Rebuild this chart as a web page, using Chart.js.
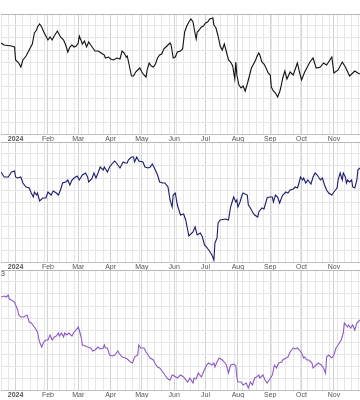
<!DOCTYPE html>
<html><head><meta charset="utf-8">
<script src="https://cdn.jsdelivr.net/npm/chart.js@4.4.1/dist/chart.umd.min.js"></script>
<style>
html,body{margin:0;padding:0;background:#fff;width:360px;height:400px;overflow:hidden}
.p{position:absolute;left:0;width:360px}
</style></head><body>
<div class="p" style="top:0;height:142px"><canvas id="c1"></canvas></div>
<div class="p" style="top:142px;height:128px"><canvas id="c2"></canvas></div>
<div class="p" style="top:270px;height:128px"><canvas id="c3"></canvas></div>
<script>
// x values: days since 2024-01-01
const monthStarts = [0,31,60,91,121,152,182,213,244,274,305];
const monthLabels = ['2024','Feb','Mar','Apr','May','Jun','Jul','Aug','Sep','Oct','Nov'];
// fragment of a clipped y-axis label visible at the top-left of the lower panel
const panel3CutLabel = '3';

const s1Days = [-14,-11,-4,-1,0,3,5,7,10,13,16,18,20,21,23,25,27,29,31,33,35,37,40,42,43,46,48,50,52,54,56,58,60,61,63,64,66,68,70,72,74,76,79,82,85,86,89,91,94,97,100,102,104,106,107,109,111,113,115,117,119,121,123,125,126,128,130,132,134,136,138,140,142,144,146,148,149,151,153,155,158,160,162,164,166,168,170,171,173,174,176,178,180,182,184,186,189,190,192,194,196,198,200,202,204,206,208,210,211,212,214,216,218,220,222,224,226,228,230,231,233,234,236,238,240,242,244,245,247,249,251,253,254,256,258,260,263,266,270,272,274,277,282,285,288,292,295,298,303,305,309,313,316,320,325,328,330];
const s1Vals = [145.5,144.5,144,143.5,137,135.5,133.5,137,139,142,145,150.5,152,153.5,155,153.5,151,149,147,148.5,147,149,151.5,149.5,148.5,147,144.5,141,143.5,144.5,143.5,144,145.5,149,146.5,145,146.5,143.5,146,144.5,143,141.5,141.5,140.5,139.5,138,138.5,137.5,137,138,137.5,141.5,140.5,138.5,139,134,129,129,131,132,133,131,129.5,128.5,132,135.5,134,133.5,135,138,139.5,140,142.5,143.5,144.5,145.5,144.5,138,138.5,141,141.5,142.5,151,154,156,157.5,156,153,147.5,151,152,153.5,154,155.5,156,157.5,158,154.5,153,149,144,142,145,141,137,136,134,127.5,136,129.5,124.5,123,124,121.5,125,129,133,135,137,138.5,140.5,139.5,136,135,133,130.5,129.5,123.5,121.5,120.5,118.5,121,123,128,131.5,127.5,131,129.5,135.5,131,127,131,136,138,133,133.5,135.5,134.5,138.5,130.5,132,136,133.5,129,131.5,130.5,130];

const s2Days = [-14,-11,-7,-4,-1,0,2,5,7,10,13,15,17,18,20,21,23,26,29,31,34,36,39,41,43,45,48,50,52,54,56,59,61,64,67,69,70,73,75,77,79,81,84,85,88,90,93,95,98,100,103,105,107,108,111,113,114,116,118,122,124,127,129,131,133,136,138,141,143,146,148,150,151,153,155,158,161,163,166,170,172,174,177,179,181,183,185,187,189,190,191,193,194,196,201,204,206,208,209,211,212,213,215,217,218,222,223,225,227,229,232,233,236,238,241,243,246,247,249,251,253,254,256,259,261,263,266,268,270,271,273,275,276,278,280,283,285,287,289,292,294,296,298,300,303,305,308,309,311,313,314,316,317,318,320,322,323,325,327,328,330];
const s2Vals = [85,82.5,82.5,85,85.5,82.5,82,82.5,79.5,77.5,77,74.5,72.5,75,73.5,74.5,70.5,72,72,75,73.5,75.5,74.5,73.5,76,79.5,80,81,78.5,81,82,83,81,83.5,84.5,82.5,80,81.5,84.5,82,84.5,87.5,86,87.5,85,87.5,89.5,90.5,88.5,87,90,89.5,89.5,91,92.5,92.5,90,92.5,90.5,90,87.5,87,87.5,89,87,83.5,80,79.5,79.5,77.5,71,67.5,73.5,74.5,68.5,63.5,64,61,53,55,57.5,53.5,54.5,52.5,48.5,47.5,46,44.5,42.5,41,49.5,52,59.5,61,61.5,61,67.5,71,72.5,70,71,67.5,70,73.5,74.5,73.5,68.5,67,65,63.5,62.5,65,67,66.5,72,72.5,72.5,70,73.5,72.5,69.5,71,73.5,75,74.5,76,76.5,77.5,77,78.5,82.5,81,82,79.5,81,79,82.5,84.5,83.5,81,82,78.5,76,74.5,73.5,75,77,81,84.5,81,84.5,82.5,79.5,81,80,81,77.5,77,81,86,87];

const s3Days = [-14,-11,-9,-7,-6,-4,-1,0,2,3,5,8,11,13,15,18,21,22,23,25,27,29,31,33,35,37,39,41,42,44,46,47,49,51,54,56,58,60,61,63,64,67,69,72,74,76,79,81,84,85,86,88,90,93,95,98,99,102,105,107,110,112,114,117,118,120,123,125,127,129,132,134,136,138,141,143,146,148,150,152,155,158,161,163,165,167,170,171,173,175,178,180,183,185,188,190,191,193,195,198,200,202,204,206,209,211,212,213,216,218,221,223,225,227,229,231,233,234,237,239,241,243,246,248,250,252,255,256,259,261,263,266,268,270,272,274,276,277,279,281,284,285,288,290,293,295,297,298,300,303,305,307,309,312,314,315,318,319,321,323,325,327,330];
const s3Vals = [43.25,43.5,43.25,43.75,42.75,42.5,42,41.25,40,38.75,38.25,38.25,38.75,37,36.75,35.75,34.5,33,32,30.75,32,32.5,32.5,33.75,32.5,33.25,33.5,34.25,33.5,34.25,33.25,34.25,33.75,34.25,33.5,34.5,35,35.75,35,33,31.25,31,30.75,30.5,29.75,30,30.75,30.25,30.5,31.25,30.5,30.5,28.75,28.5,28.75,29.75,29.25,28.25,28,27.75,27,26.75,28.25,28.75,31.25,30.5,30.5,29.5,28.75,28,27.5,26.5,25.75,25.5,24.5,23.75,22.75,22.5,23.75,23.5,23,23.75,23.25,22.5,22,23,21.75,23,22.75,24.25,23.25,24.5,26.25,26.75,26.25,26.75,25.75,27,28,27.5,27,26.25,24.25,26.25,26.5,26,23.25,22,22,21.25,21.75,20.5,22,21.25,23,23.25,23.75,23,23.75,22.5,21.75,22.5,23.75,26.25,25.5,26.75,27,27.5,28,28.25,29.5,30.5,30.25,30.5,30,29.25,28,28.25,27.5,27.5,26.75,25.5,26.25,26.75,26.25,25.5,24.25,28.25,28.75,28,28.75,30.5,31.25,32.5,34.25,36.75,35.75,36.25,35.5,36.25,35,36.75,37.5];

const xMin = -14, xMax = 330;
const weekDays = [];
for (let d = -14; d <= xMax; d += 7) weekDays.push(d);
const gridDays = Array.from(new Set(weekDays.concat(monthStarts))).sort((a,b)=>a-b);

const cutLabelPlugin = {
  id: 'cutLabel',
  afterDraw(chart, args, opts) {
    if (!opts.text) return;
    const ctx = chart.ctx;
    ctx.save();
    ctx.font = '7px "Liberation Sans", Arial, sans-serif';
    ctx.fillStyle = '#444';
    ctx.textAlign = 'left';
    ctx.textBaseline = 'middle';
    ctx.fillText(opts.text, 1, chart.chartArea.top + 4);
    ctx.restore();
  }
};

function makeChart(id, days, vals, color, yMin, yMax, step, topPad, cut) {
  const pts = days.map((d,i)=>({x:d, y:vals[i]}));
  return new Chart(document.getElementById(id), {
    type: 'line',
    data: { datasets: [{ data: pts, borderColor: color, borderWidth: 1.1, pointRadius: 0, tension: 0, fill: false }] },
    plugins: [cutLabelPlugin],
    options: {
      responsive: true, maintainAspectRatio: false, animation: false,
      layout: { padding: { top: topPad, left: 0, right: 0, bottom: 0 } },
      plugins: { legend: { display: false }, tooltip: { enabled: false }, cutLabel: { text: cut } },
      scales: {
        x: {
          type: 'linear', min: xMin, max: xMax,
          afterBuildTicks: s => { s.ticks = gridDays.map(v => ({ value: v })); },
          afterFit: s => { s.height = 8; },
          grid: { color: c => monthStarts.includes(c.tick && c.tick.value) ? '#d2d2d2' : '#e6e6e6', drawTicks: false, lineWidth: 1 },
          border: { display: true, color: '#c0c0c0' },
          ticks: {
            autoSkip: false, maxRotation: 0, padding: 1, color: '#555',
            font: c => ({ family: 'Liberation Sans, Arial, sans-serif', size: 7, weight: (c.tick && c.tick.value === 0) ? 'bold' : 'normal' }),
            callback: v => { const i = monthStarts.indexOf(v); return i >= 0 ? monthLabels[i] : ''; }
          }
        },
        y: {
          min: yMin, max: yMax,
          afterFit: s => { s.width = 0; },
          ticks: { display: false, stepSize: step },
          grid: { color: c => (c.tick && c.tick.value === yMax) ? '#b8b8b8' : '#e6e6e6', drawTicks: false },
          border: { display: false }
        }
      }
    }
  });
}

makeChart('c1', s1Days, s1Vals, '#111111', 100, 160, 6, 14, '');
makeChart('c2', s2Days, s2Vals, '#1c1c6e', 40, 100, 6, 0, '');
makeChart('c3', s3Days, s3Vals, '#8a5cc4', 20, 50, 3, 0, panel3CutLabel);
</script>
</body></html>
